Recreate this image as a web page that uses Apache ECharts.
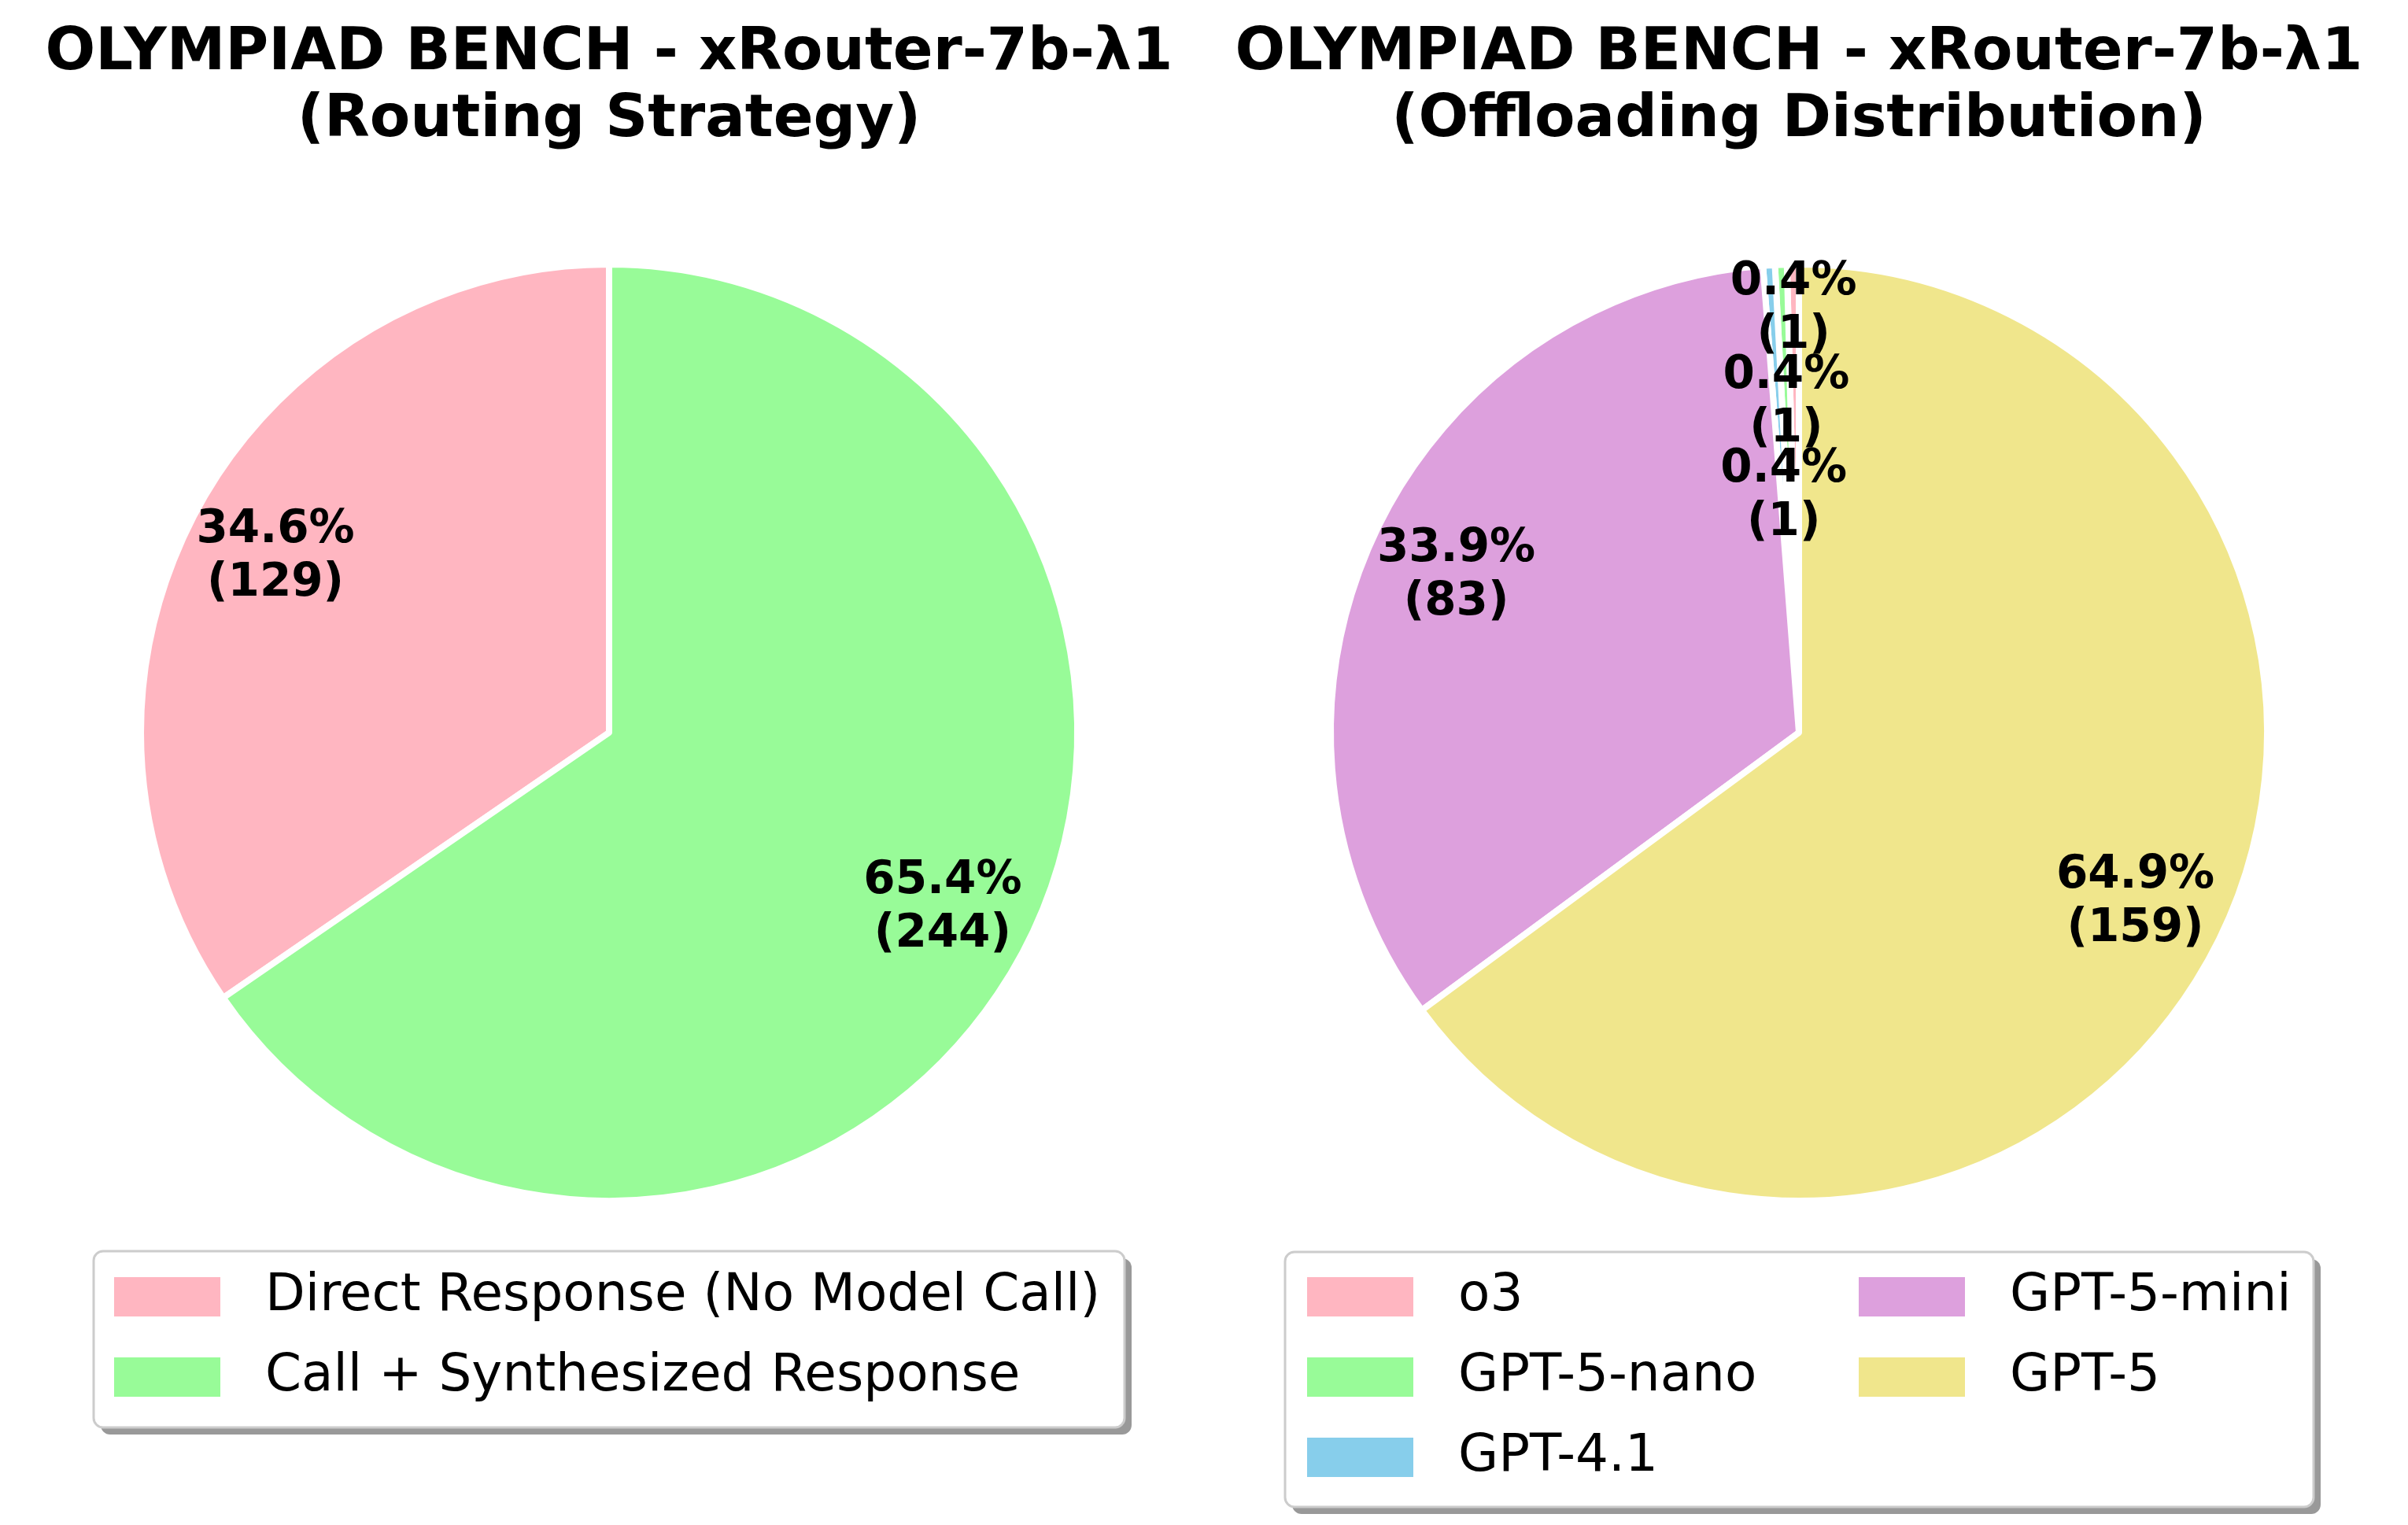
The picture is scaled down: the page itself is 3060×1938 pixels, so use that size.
<!DOCTYPE html>
<html>
<head>
<meta charset="utf-8">
<script src="https://cdn.jsdelivr.net/npm/echarts@6/dist/echarts.min.js"></script>
<style>
html,body{margin:0;padding:0;background:#fff;}
#chart{width:3060px;height:1938px;}
</style>
</head>
<body>
<div id="chart"></div>
<script>
// ---- data ----
var routingNames = ['Direct Response (No Model Call)', 'Call + Synthesized Response'];
var routingValues = [129, 244];
var routingColors = ['#FFB6C1', '#98FB98'];

var offloadNames = ['o3', 'GPT-5-nano', 'GPT-4.1', 'GPT-5-mini', 'GPT-5'];
var offloadValues = [1, 1, 1, 83, 159];
var offloadColors = ['#FFB6C1', '#98FB98', '#87CEEB', '#DDA0DD', '#F0E68C'];

var titleLeft = 'OLYMPIAD BENCH - xRouter-7b-\u03bb1\n(Routing Strategy)';
var titleRight = 'OLYMPIAD BENCH - xRouter-7b-\u03bb1\n(Offloading Distribution)';

// ---- layout ----
var R = 595;
var cL = [774, 931], cR = [2286, 931];
var FONT = 'DejaVu Sans';

function labelFmt(p) { return p.percent.toFixed(1) + '%\n(' + p.value + ')'; }
var labelStyle = {
  position: 'inside', formatter: labelFmt, fontFamily: FONT, fontWeight: 'bold',
  fontSize: 58, lineHeight: 68, color: '#000'
};

function mainPie(names, values, colors, center) {
  return {
    type: 'pie', center: center, radius: [0, R], startAngle: 90, clockwise: false,
    silent: true, animation: false, label: {show: false}, labelLine: {show: false},
    emphasis: {disabled: true},
    itemStyle: {borderColor: '#fff', borderWidth: 8},
    data: names.map(function (n, i) { return {name: n, value: values[i], itemStyle: {color: colors[i]}}; })
  };
}
// transparent overlay whose ring midpoint sets the label distance (like pctdistance)
function labelPie(names, values, center, frac, showIdx) {
  return {
    type: 'pie', center: center, radius: [(2 * frac - 1) * R, R], startAngle: 90, clockwise: false,
    silent: true, animation: false, percentPrecision: 2,
    label: labelStyle, labelLine: {show: false}, emphasis: {disabled: true},
    labelLayout: {hideOverlap: false, moveOverlap: null},
    itemStyle: {color: 'rgba(0,0,0,0)', borderWidth: 0},
    data: names.map(function (n, i) {
      return {name: n, value: values[i], label: {show: showIdx.indexOf(i) >= 0}};
    })
  };
}

function legendData(names, colors, idx) {
  return idx.map(function (i) { return {name: names[i], itemStyle: {color: colors[i]}}; });
}
var legendCommon = {
  orient: 'vertical', icon: 'rect', itemWidth: 137, itemHeight: 52, itemGap: 36, padding: 0,
  selectedMode: false,
  textStyle: {fontFamily: FONT, fontSize: 66, lineHeight: 52, color: '#000', padding: [0, 0, 0, 51]}
};

var chart = echarts.init(document.getElementById('chart'), null, {renderer: 'canvas'});
chart.setOption({
  backgroundColor: '#fff',
  animation: false,
  title: [
    {text: titleLeft, left: cL[0], top: 26, textAlign: 'center', padding: 0,
     textStyle: {fontFamily: FONT, fontWeight: 'bold', fontSize: 75, lineHeight: 85, color: '#000'}},
    {text: titleRight, left: cR[0], top: 26, textAlign: 'center', padding: 0,
     textStyle: {fontFamily: FONT, fontWeight: 'bold', fontSize: 75, lineHeight: 85, color: '#000'}}
  ],
  graphic: [
    {type: 'rect', z: 0, shape: {x: 128, y: 1599, width: 1310, height: 224, r: 12}, style: {fill: '#999'}},
    {type: 'rect', z: 1, shape: {x: 119, y: 1590, width: 1310, height: 224, r: 12}, style: {fill: '#fff', stroke: '#cccccc', lineWidth: 3}},
    {type: 'rect', z: 0, shape: {x: 1642, y: 1600, width: 1307, height: 324, r: 12}, style: {fill: '#999'}},
    {type: 'rect', z: 1, shape: {x: 1633, y: 1591, width: 1307, height: 324, r: 12}, style: {fill: '#fff', stroke: '#cccccc', lineWidth: 3}}
  ],
  legend: [
    Object.assign({}, legendCommon, {left: 143, top: 1615, data: legendData(routingNames, routingColors, [0, 1])}),
    Object.assign({}, legendCommon, {left: 1659, top: 1615, data: legendData(offloadNames, offloadColors, [0, 1, 2])}),
    Object.assign({}, legendCommon, {left: 2360, top: 1615, data: legendData(offloadNames, offloadColors, [3, 4])})
  ],
  series: [
    mainPie(routingNames, routingValues, routingColors, cL),
    labelPie(routingNames, routingValues, cL, 0.8, [0, 1]),
    mainPie(offloadNames, offloadValues, offloadColors, cR),
    labelPie(offloadNames, offloadValues, cR, 0.8, [3, 4]),
    labelPie(offloadNames, offloadValues, cR, 0.9, [0]),
    labelPie(offloadNames, offloadValues, cR, 0.7, [1]),
    labelPie(offloadNames, offloadValues, cR, 0.5, [2])
  ]
});
</script>
</body>
</html>
